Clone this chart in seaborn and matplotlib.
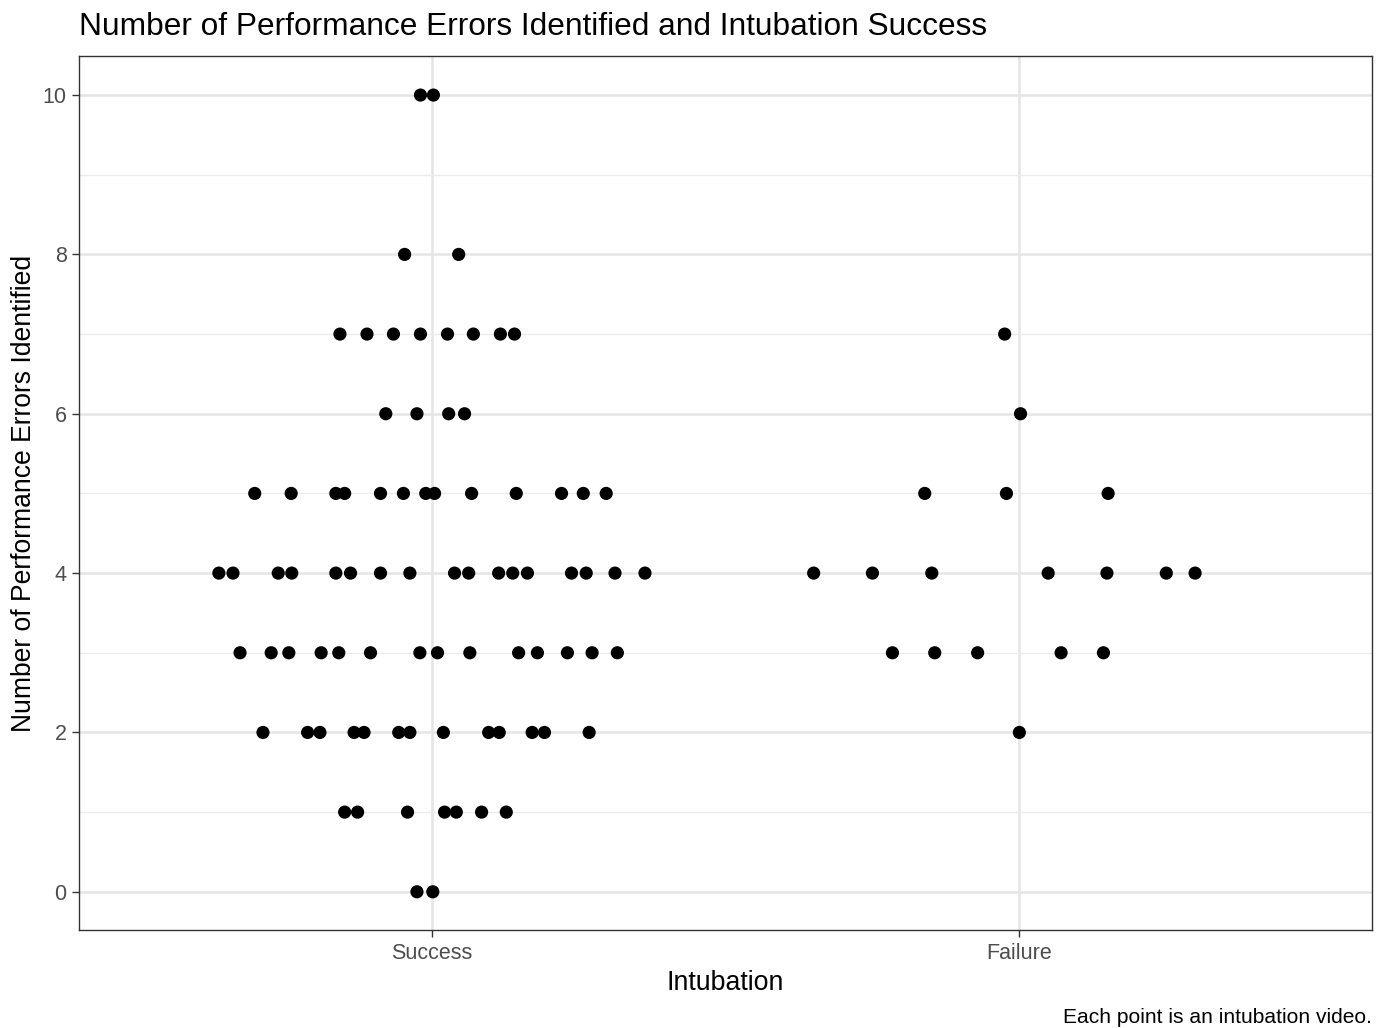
import matplotlib
matplotlib.use("Agg")
import matplotlib.pyplot as plt
import seaborn as sns
import pandas as pd
import numpy as np
from matplotlib.ticker import MultipleLocator

categories = ["Success", "Failure"]

# errors identified, per intubation outcome, with horizontal jitter (category units)
success_errors = [10, 10,
                  8, 8,
                  7, 7, 7, 7, 7, 7, 7, 7,
                  6, 6, 6, 6,
                  5, 5, 5, 5, 5, 5, 5, 5, 5, 5, 5, 5, 5,
                  4, 4, 4, 4, 4, 4, 4, 4, 4, 4, 4, 4, 4, 4, 4, 4, 4,
                  3, 3, 3, 3, 3, 3, 3, 3, 3, 3, 3, 3, 3, 3,
                  2, 2, 2, 2, 2, 2, 2, 2, 2, 2, 2, 2, 2,
                  1, 1, 1, 1, 1, 1, 1,
                  0, 0]
success_jitter = [-0.019, 0.003,
                  -0.046, 0.046,
                  -0.156, -0.110, -0.065, -0.019, 0.027, 0.071, 0.117, 0.141,
                  -0.078, -0.025, 0.029, 0.056,
                  -0.301, -0.239, -0.163, -0.148, -0.087, -0.048, -0.010, 0.005, 0.068, 0.144, 0.221, 0.258, 0.297,
                  -0.362, -0.338, -0.261, -0.238, -0.163, -0.138, -0.087, -0.037, 0.039, 0.063, 0.114, 0.138, 0.163, 0.238, 0.263, 0.312, 0.363,
                  -0.326, -0.273, -0.243, -0.188, -0.158, -0.104, -0.020, 0.010, 0.065, 0.148, 0.180, 0.231, 0.273, 0.316,
                  -0.287, -0.211, -0.190, -0.132, -0.115, -0.056, -0.037, 0.020, 0.097, 0.115, 0.171, 0.192, 0.268,
                  -0.148, -0.126, -0.041, 0.022, 0.042, 0.085, 0.127,
                  -0.025, 0.002]

failure_errors = [7, 6, 5, 5, 5, 4, 4, 4, 4, 4, 4, 4, 3, 3, 3, 3, 3, 2]
failure_jitter = [-0.025, 0.002, -0.161, -0.022, 0.151,
                  -0.350, -0.250, -0.149, 0.049, 0.149, 0.250, 0.299,
                  -0.216, -0.144, -0.071, 0.071, 0.143, 0.0]

df = pd.DataFrame({
    "outcome": ["Success"] * len(success_errors) + ["Failure"] * len(failure_errors),
    "errors": success_errors + failure_errors,
    "jitter": success_jitter + failure_jitter,
})
df["xpos"] = df["outcome"].map({c: i for i, c in enumerate(categories)}) + df["jitter"]

sns.set_theme(style="white")
plt.rcParams["font.family"] = ["Liberation Sans", "DejaVu Sans"]

fig = plt.figure(figsize=(13.86, 10.28), dpi=100)
ax = fig.add_axes([0.057, 0.0953, 0.9329, 0.8502])

sns.scatterplot(data=df, x="xpos", y="errors", ax=ax, color="black",
                s=90, edgecolor="none", zorder=3, legend=False)

ax.set_xlim(-0.6, 1.6)
ax.set_ylim(-0.48, 10.49)
ax.set_xticks(range(len(categories)))
ax.set_xticklabels(categories)
ax.yaxis.set_major_locator(MultipleLocator(2))
ax.yaxis.set_minor_locator(MultipleLocator(1))

ax.grid(which="major", axis="both", color="#E5E5E5", linewidth=1.8, zorder=0)
ax.grid(which="minor", axis="y", color="#EBEBEB", linewidth=1.0, zorder=0)
ax.set_axisbelow(True)

for sp in ax.spines.values():
    sp.set_color("#333333")
    sp.set_linewidth(1.0)

ax.tick_params(axis="both", which="major", length=5, width=1.0, color="#333333",
               labelsize=15.5, labelcolor="#4D4D4D", bottom=True, left=True, pad=4)
ax.tick_params(axis="y", which="minor", length=0)

ax.set_xlabel("Intubation", fontsize=19.3, color="black", labelpad=5)
ax.set_ylabel("Number of Performance Errors Identified", fontsize=19.1, color="black", labelpad=4)
fig.text(0.057, 0.9735, "Number of Performance Errors Identified and Intubation Success",
         fontsize=22.8, ha="left", va="center", color="black")
fig.text(0.9899, 0.0105, "Each point is an intubation video.",
         fontsize=15.1, ha="right", va="center", color="black")

fig.savefig("out.png", dpi=100)
